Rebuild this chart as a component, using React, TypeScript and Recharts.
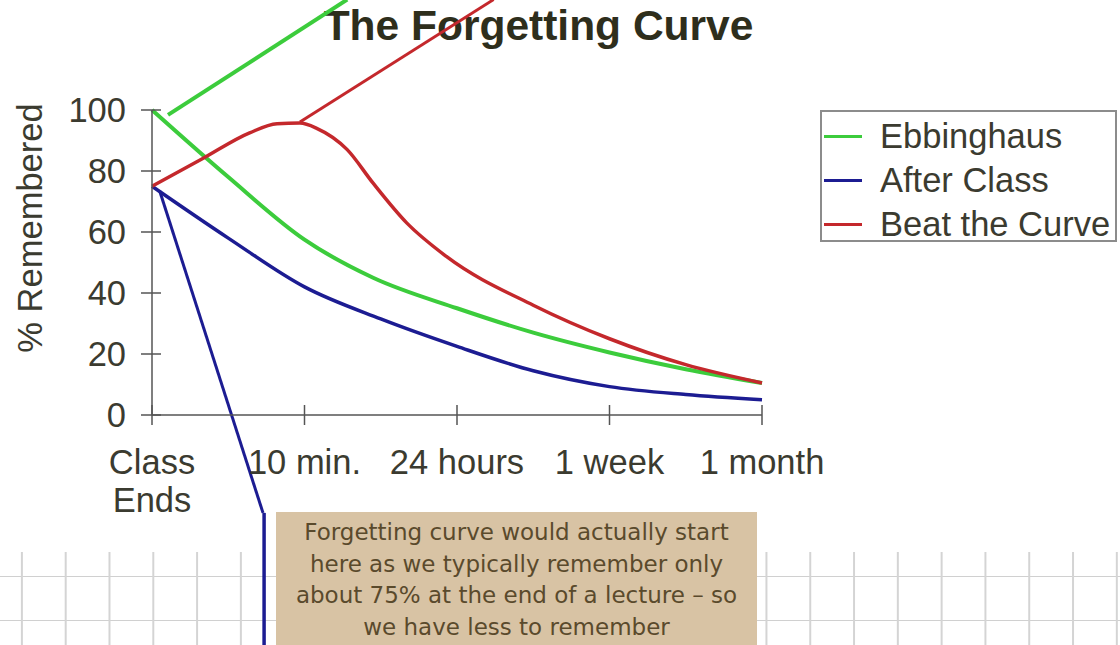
import React from 'react';
import { LineChart, Line, XAxis, YAxis, Legend, ReferenceLine } from 'recharts';

const FONT = "'Liberation Sans', Arial, sans-serif";
const TEXT = '#3b3b30';
const LABEL_SIZE = 34.5;

const xTicks = [0, 1, 2, 3, 4];
const xTickLabels = [['Class', 'Ends'], ['10 min.'], ['24 hours'], ['1 week'], ['1 month']];
const yTicks = [0, 20, 40, 60, 80, 100];

const seriesNames = ['Ebbinghaus', 'After Class', 'Beat the Curve'];
const seriesColors = ['#3ccc3c', '#1c1c92', '#c4282c'];

const ebbinghausX = [0, 0.5, 1, 1.45, 2, 2.5, 3, 3.5, 4];
const ebbinghausY = [100, 78, 57.5, 45, 35, 27, 20.5, 15, 10.5];

const afterClassX = [0, 0.5, 1, 1.5, 2, 2.5, 3, 3.5, 4];
const afterClassY = [75, 58, 42, 31.5, 22.5, 14.5, 9.3, 6.7, 5];

const beatCurveX = [0, 0.33, 0.64, 0.82, 0.97, 1.08, 1.28, 1.45, 1.67, 1.93, 2.5, 3, 3.5, 4];
const beatCurveY = [75, 84, 92.5, 95.5, 95.7, 94, 87, 76, 63, 52, 36, 25, 16.5, 10.5];

// callout lines leaving the chart (data coordinates)
const greenCallout = [{ x: 0.105, y: 98.4 }, { x: 1.28, y: 136.2 }];
const redCallout = [{ x: 0.97, y: 96.1 }, { x: 2.24, y: 136.2 }];
const blueCallout = [{ x: 0.05, y: 73.5 }, { x: 0.728, y: -32.1 }];
const blueCalloutDrop = [{ x: 0.735, y: -32.1 }, { x: 0.735, y: -76 }];

const noteLines = [
  'Forgetting curve would actually start',
  'here as we typically remember only',
  'about 75% at the end of a lecture \u2013 so',
  'we have less to remember',
];

const toPoints = (xs: number[], ys: number[]) => xs.map((x, i) => ({ x, y: ys[i] }));

const YTick = ({ x, y, payload }: any) => (
  <g>
    <line x1={x - 11} x2={x + 9} y1={y} y2={y} stroke="#555" strokeWidth={1.5} />
    <text x={x - 26} y={y} dy={12} textAnchor="end" fontSize={LABEL_SIZE} fontFamily={FONT} fill={TEXT}>
      {payload.value}
    </text>
  </g>
);

const XTick = ({ x, y, payload }: any) => {
  const lines = xTickLabels[xTicks.indexOf(payload.value)] || [];
  return (
    <g>
      <line x1={x} x2={x} y1={y - 10} y2={y + 10} stroke="#555" strokeWidth={1.5} />
      {lines.map((l, i) => (
        <text key={l} x={x} y={y + 59 + i * 38} textAnchor="middle" fontSize={LABEL_SIZE} fontFamily={FONT} fill={TEXT}>
          {l}
        </text>
      ))}
    </g>
  );
};

const LegendBox = ({ payload }: any) => {
  const items = [...(payload || [])].sort(
    (a: any, b: any) => seriesNames.indexOf(a.value) - seriesNames.indexOf(b.value)
  );
  return (
    <div
      style={{
        border: '2px solid #8c8c8c',
        background: '#fff',
        boxSizing: 'border-box',
        width: 297,
        height: 132,
        paddingTop: 2,
      }}
    >
      {items.map((p: any) => (
        <div key={p.value} style={{ display: 'flex', alignItems: 'center', height: 44 }}>
          <span style={{ display: 'inline-block', width: 38, height: 3, marginLeft: 2, marginRight: 18, background: p.color }} />
          <span style={{ fontSize: LABEL_SIZE, fontFamily: FONT, color: TEXT, whiteSpace: 'nowrap' }}>{p.value}</span>
        </div>
      ))}
    </div>
  );
};

export default function App() {
  const series = [
    toPoints(ebbinghausX, ebbinghausY),
    toPoints(afterClassX, afterClassY),
    toPoints(beatCurveX, beatCurveY),
  ];
  return (
    <div style={{ position: 'absolute', left: 0, top: 0, width: 1120, height: 645, background: '#fff', overflow: 'hidden' }}>
      {/* graph paper strip at the bottom */}
      <div
        style={{
          position: 'absolute',
          left: 0,
          top: 552,
          width: 1120,
          height: 93,
          backgroundImage:
            'linear-gradient(to right, transparent 21px, #d4d4d4 21px, #d4d4d4 22.5px, transparent 22.5px), linear-gradient(to bottom, transparent 24px, #d0d0d0 24px, #d0d0d0 25.5px, transparent 25.5px)',
          backgroundSize: '43.8px 44px',
        }}
      />
      <div
        style={{
          position: 'absolute',
          left: 0,
          top: 5,
          width: 1077,
          textAlign: 'center',
          fontSize: 42.5,
          lineHeight: '41px',
          fontWeight: 'bold',
          fontFamily: FONT,
          color: '#2e2e1c',
        }}
      >
        The Forgetting Curve
      </div>
      <div
        style={{
          position: 'absolute',
          left: -110,
          top: 208,
          width: 280,
          height: 40,
          lineHeight: '40px',
          textAlign: 'center',
          transform: 'rotate(-90deg)',
          fontSize: LABEL_SIZE,
          fontFamily: FONT,
          color: TEXT,
          whiteSpace: 'nowrap',
        }}
      >
        % Remembered
      </div>
      <div style={{ position: 'absolute', left: 0, top: 0 }}>
        <LineChart width={1120} height={645} margin={{ top: 110, right: 358, bottom: 130, left: 72 }}>
          <XAxis
            type="number"
            dataKey="x"
            domain={[0, 4]}
            ticks={xTicks}
            tick={<XTick />}
            tickSize={0}
            tickMargin={0}
            height={100}
            axisLine={{ stroke: '#555', strokeWidth: 1.5 }}
          />
          <YAxis
            type="number"
            domain={[0, 100]}
            ticks={yTicks}
            tick={<YTick />}
            tickSize={0}
            tickMargin={0}
            width={80}
            axisLine={{ stroke: '#555', strokeWidth: 1.5 }}
          />
          <Legend
            content={<LegendBox />}
            layout="horizontal"
            align="center"
            verticalAlign="middle"
            wrapperStyle={{ left: 820, top: 110, width: 297 }}
          />
          <ReferenceLine segment={greenCallout} stroke={seriesColors[0]} strokeWidth={4} ifOverflow="visible" />
          <ReferenceLine segment={redCallout} stroke={seriesColors[2]} strokeWidth={3} ifOverflow="visible" />
          <ReferenceLine segment={blueCallout} stroke={seriesColors[1]} strokeWidth={3} ifOverflow="visible" />
          <ReferenceLine segment={blueCalloutDrop} stroke={seriesColors[1]} strokeWidth={3.5} ifOverflow="visible" />
          {series.map((data, i) => (
            <Line
              key={seriesNames[i]}
              data={data}
              dataKey="y"
              name={seriesNames[i]}
              type="monotone"
              stroke={seriesColors[i]}
              strokeWidth={i === 0 ? 4 : 3.5}
              dot={false}
              activeDot={false}
              isAnimationActive={false}
            />
          ))}
        </LineChart>
      </div>
      <div
        style={{
          position: 'absolute',
          left: 276,
          top: 512,
          width: 481,
          height: 140,
          background: '#d8c3a4',
          paddingTop: 5,
          boxSizing: 'border-box',
          textAlign: 'center',
          fontFamily: "'DejaVu Sans', Verdana, sans-serif",
          fontSize: 23,
          lineHeight: '31.5px',
          color: '#5a4a2c',
          whiteSpace: 'nowrap',
        }}
      >
        {noteLines.map((l) => (
          <div key={l}>{l}</div>
        ))}
      </div>
    </div>
  );
}
